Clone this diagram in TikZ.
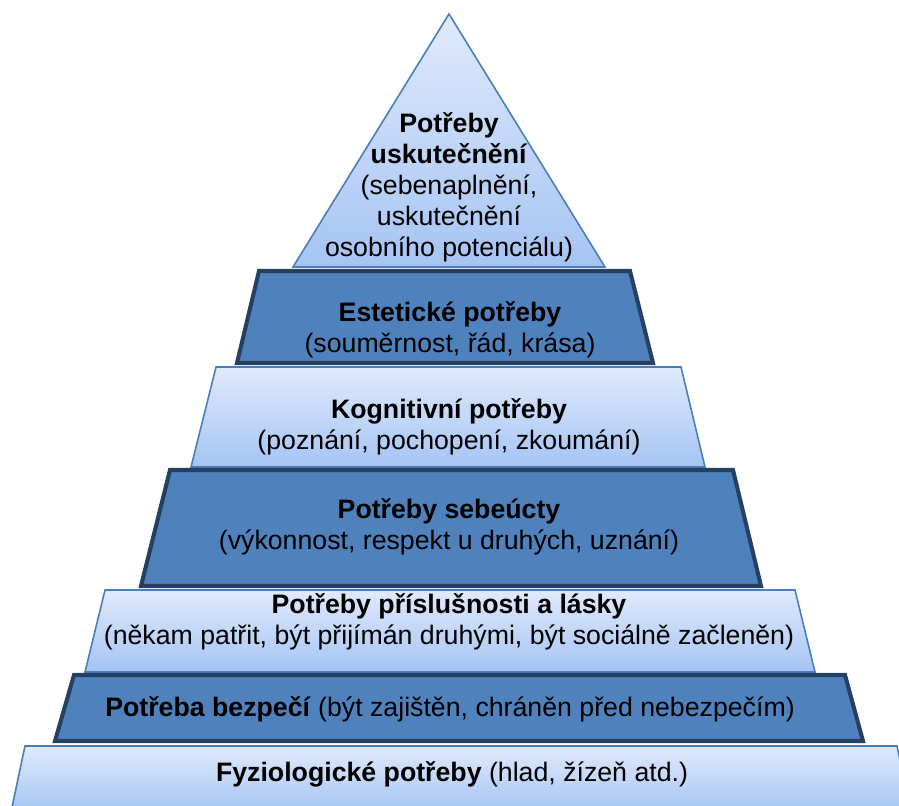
\documentclass[tikz,border=0pt]{standalone}
\usepackage{fontspec}
\setmainfont{Liberation Sans}
\definecolor{stepdark}{RGB}{79,129,189}
\definecolor{stepedge}{RGB}{37,64,97}
\definecolor{paletop}{RGB}{224,234,252}
\definecolor{palebot}{RGB}{165,196,243}
\definecolor{paleedge}{RGB}{74,126,187}

\begin{document}
\begin{tikzpicture}[
  x=0.02cm,y=-0.02cm,
  darklayer/.style={fill=stepdark,draw=stepedge,line width=2.3pt,line join=miter},
  lightlayer/.style={top color=paletop,bottom color=palebot,draw=paleedge,line width=0.9pt},
  need/.style={align=center,font=\fontsize{15.2}{17.6}\selectfont,inner sep=0pt}
]
\useasboundingbox (0,0) rectangle (899,805);
\clip (0,0) rectangle (899,805);
% ================= pyramid layers =================
\path[lightlayer] (449,14) -- (605,267) -- (293,267) -- cycle;
\path[darklayer] (259,271) -- (630,271) -- (653,363) -- (237,363) -- cycle;
\path[lightlayer] (216,367) -- (681,367) -- (705,467) -- (191,467) -- cycle;
\path[darklayer] (170,470) -- (733,470) -- (761,586) -- (141,586) -- cycle;
\path[lightlayer] (105,590) -- (795,590) -- (815,672) -- (85,672) -- cycle;
\path[darklayer] (74,675) -- (845,675) -- (863,741) -- (55,741) -- cycle;
\path[lightlayer] (25,746) -- (897,746) -- (911,812) -- (11,812) -- cycle;
% ================= labels =================
\node[need] (self) at (449,187) {\textbf{Potřeby}\\\textbf{uskutečnění}\\(sebenaplnění,\\uskutečnění\\osobního potenciálu)};
\node[need] (aesth) at (450,330) {\textbf{Estetické potřeby}\\(souměrnost, řád, krása)};
\node[need] (cogn) at (449,427) {\textbf{Kognitivní potřeby}\\(poznání, pochopení, zkoumání)};
\node[need] (esteem) at (449,527) {\textbf{Potřeby sebeúcty}\\(výkonnost, respekt u druhých, uznání)};
\node[need] (love) at (449,622) {\textbf{Potřeby příslušnosti a lásky}\\(někam patřit, být přijímán druhými, být sociálně začleněn)};
\node[need] (safety) at (450,709) {\textbf{Potřeba bezpečí} (být zajištěn, chráněn před nebezpečím)};
\node[need] (body) at (452,774) {\textbf{Fyziologické potřeby} (hlad, žízeň atd.)};
\end{tikzpicture}
\end{document}
